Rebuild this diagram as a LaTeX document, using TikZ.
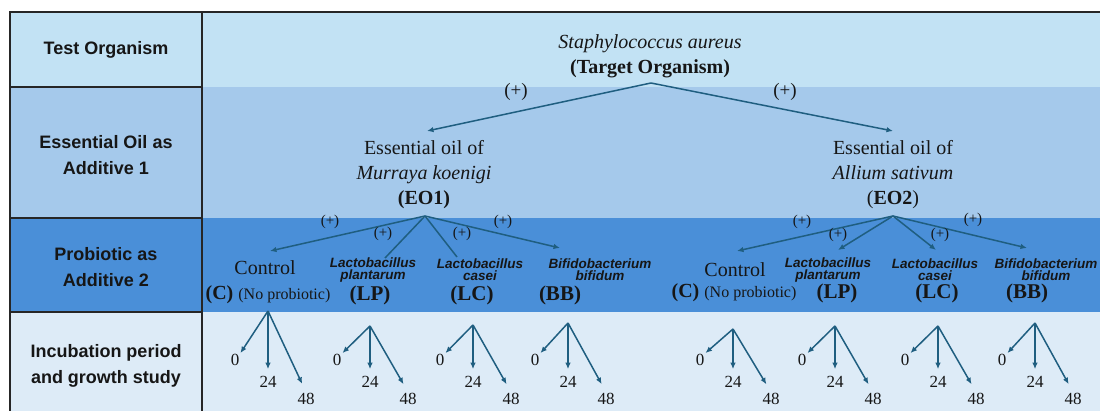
\documentclass[tikz,border=0pt]{standalone}
\usepackage{fontspec}
\setmainfont{Liberation Serif}
\newfontfamily\rowfont{Liberation Sans}
\usepackage{xcolor}
\usetikzlibrary{arrows.meta}
\definecolor{rowA}{HTML}{C2E2F4}
\definecolor{rowB}{HTML}{A5C9EB}
\definecolor{rowC}{HTML}{4A8FD8}
\definecolor{rowD}{HTML}{DDEBF7}
\definecolor{edge}{HTML}{1F5E80}
\definecolor{ink}{HTML}{161616}
\newcommand{\fs}[2]{\fontsize{#1}{#2}\selectfont}

\begin{document}
\begin{tikzpicture}[x=1pt, y=-1pt,
    head/.style={font=\rowfont\bfseries\fs{18}{26}, text=ink, align=center},
    txt/.style={font=\fs{20}{25}, text=ink, align=center, inner sep=1pt},
    spc/.style={font=\rowfont\bfseries\itshape\fs{13.5}{12}, text=ink, align=center, inner sep=1pt},
    abbr/.style={font=\bfseries\fs{21}{25}, text=ink, inner sep=1pt},
    plus/.style={font=\fs{19}{19}, text=ink, inner sep=1pt},
    plussm/.style={font=\fs{15}{15}, text=ink, inner sep=1pt},
    num/.style={font=\fs{17}{17}, text=ink, inner sep=1pt},
    arr/.style={draw=edge, line width=1.5pt, -{Latex[length=6.5pt,width=5.5pt]}},
    bare/.style={draw=edge, line width=1.5pt}]
  \useasboundingbox (0,0) rectangle (1100,411);
  % row bands
  \fill[rowA] (10,12) rectangle (1100,87);
  \fill[rowB] (10,87) rectangle (1100,218);
  \fill[rowC] (10,218) rectangle (1100,312);
  \fill[rowD] (10,312) rectangle (1100,411);
  % frame
  \draw[line width=1.5pt, black!85] (1100,12) -- (10,12) -- (10,411);
  \draw[line width=1.5pt, black!85] (202,12) -- (202,411);
  \foreach \y in {87,218,312} \draw[line width=1.2pt, black!85] (10,\y) -- (202,\y);

  % left column
  \node[head] (h1) at (106,50) {Test Organism};
  \node[head] (h2) at (106,155) {Essential Oil as\\Additive 1};
  \node[head] (h3) at (106,267) {Probiotic as\\Additive 2};
  \node[head] (h4) at (106,366) {Incubation period\\and growth study};

  % target organism and oils
  \node[txt] (root) at (650,56) {\textit{Staphylococcus aureus}\\\textbf{(Target Organism)}};
  \node[txt] (eo1) at (424,175) {Essential oil of\\\textit{Murraya koenigi}\\\textbf{(EO1)}};
  \node[txt] (eo2) at (893,175) {Essential oil of\\\textit{Allium sativum}\\(\textbf{EO2})};
  \coordinate (fork0) at (651,83);
  \coordinate (eo1in) at (427,131);
  \coordinate (eo2in) at (893,131);
  \draw[arr] (fork0) -- (eo1in); %
  \draw[arr] (fork0) -- (eo2in); %
  \node[plus] (p1) at (516,92) {(+)};
  \node[plus] (p2) at (785,92) {(+)};

  % probiotics under EO1
  \node[txt] (ctl1) at (265,268) {Control};
  \node[txt] (ctl1b) at (268,295) {\textbf{(C)} {\fs{16}{20}(No probiotic)}};
  \node[spc] (lp1) at (373,270) {Lactobacillus\\plantarum};
  \node[abbr] (lp1b) at (370,295) {(LP)};
  \node[spc] (lc1) at (480,270) {Lactobacillus\\casei};
  \node[abbr] (lc1b) at (472,295) {(LC)};
  \node[spc] (bb1) at (600,270) {Bifidobacterium\\bifidum};
  \node[abbr] (bb1b) at (560,295) {(BB)};
  \coordinate (fork1) at (425,216);
  \coordinate (ctl1in) at (270,251);
  \coordinate (lp1in) at (385,258);
  \coordinate (lc1in) at (457,257);
  \coordinate (bb1in) at (560,248);
  \draw[arr] (fork1) -- (ctl1in); %
  \draw[bare] (fork1) -- (lp1in); %
  \draw[bare] (fork1) -- (lc1in); %
  \draw[arr] (fork1) -- (bb1in); %
  \node[plussm] (q1) at (330,222) {(+)};
  \node[plussm] (q2) at (383,234) {(+)};
  \node[plussm] (q3) at (462,234) {(+)};
  \node[plussm] (q4) at (503,222) {(+)};

  % probiotics under EO2
  \node[txt] (ctl2) at (735,270) {Control};
  \node[txt] (ctl2b) at (734,293) {\textbf{(C)} {\fs{16}{20}(No probiotic)}};
  \node[spc] (lp2) at (828,270) {Lactobacillus\\plantarum};
  \node[abbr] (lp2b) at (837,293) {(LP)};
  \node[spc] (lc2) at (935,270) {Lactobacillus\\casei};
  \node[abbr] (lc2b) at (937,293) {(LC)};
  \node[spc] (bb2) at (1046,270) {Bifidobacterium\\bifidum};
  \node[abbr] (bb2b) at (1027,293) {(BB)};
  \coordinate (fork2) at (893,216);
  \coordinate (ctl2in) at (737,251);
  \coordinate (lp2in) at (838,250);
  \coordinate (lc2in) at (936,250);
  \coordinate (bb2in) at (1027,248);
  \draw[arr] (fork2) -- (ctl2in); %
  \draw[arr] (fork2) -- (lp2in); %
  \draw[arr] (fork2) -- (lc2in); %
  \draw[arr] (fork2) -- (bb2in); %
  \node[plussm] (q5) at (802,222) {(+)};
  \node[plussm] (q6) at (838,235) {(+)};
  \node[plussm] (q7) at (940,235) {(+)};
  \node[plussm] (q8) at (973,220) {(+)};

  % incubation times
  \foreach \n/\x/\y in {g1/268/311, g2/370/326, g3/473/325, g4/568/323,
                       g5/733/329, g6/835/326, g7/938/326, g8/1035/323} {
    \coordinate (\n) at (\x,\y);
    \node[num] (\n-0) at (\x-33,360) {0};
    \node[num] (\n-24) at (\x,382) {24};
    \node[num] (\n-48) at (\x+38,399) {48};
    \draw[arr] (\n) -- (\n-0.north east);
    \draw[arr, shorten >=6pt] (\n) -- (\n-24.north);
    \draw[arr, shorten >=9pt] (\n) -- (\n-48.north);
  }
\end{tikzpicture}
\end{document}
